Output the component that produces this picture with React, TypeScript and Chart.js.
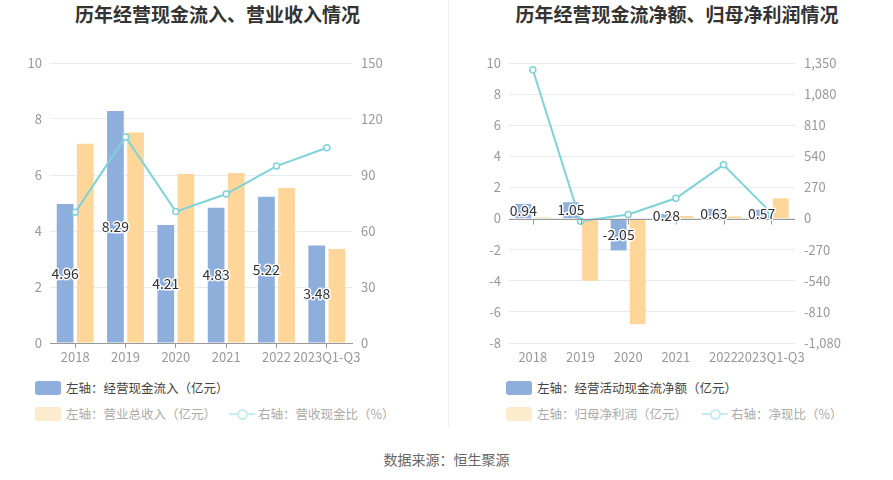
import React, { useEffect, useRef } from "react";
import { Chart, registerables } from "chart.js";

Chart.register(...registerables);

const years = ["2018", "2019", "2020", "2021", "2022", "2023Q1-Q3"];
const cashInflow = [4.96, 8.29, 4.21, 4.83, 5.22, 3.48];
const revenue = [7.12, 7.52, 6.04, 6.07, 5.54, 3.36];
const cashRevenueRatio = [70.0, 110.4, 70.4, 79.8, 94.8, 104.6];
const netCashFlow = [0.94, 1.05, -2.05, 0.28, 0.63, 0.57];
const netProfit = [0.07, -4.0, -6.8, 0.17, 0.14, 1.3];
const netCashRatio = [1292, -23, 35, 176, 466, 49];

const leftTicks = { min: 0, max: 10, step: 2 };
const leftRightTicks = { min: 0, max: 150, step: 30 };
const rightTicks = { min: -8, max: 10, step: 2 };
const rightRightTicks = { min: -1080, max: 1350, step: 270 };

const BLUE = "#8eafdc";
const ORANGE = "#ffd699";
const TEAL = "#7dd3d7";
const GRID = "#e8ebf2";
const TICK = "#999999";
const FONT = "'Noto Sans CJK SC', 'Noto Sans', sans-serif";

const valueLabels = {
  id: "valueLabels",
  afterDatasetsDraw(chart: any) {
    const ctx = chart.ctx;
    const meta = chart.getDatasetMeta(0);
    const data = chart.data.datasets[0].data;
    ctx.save();
    ctx.font = `14px ${FONT}`;
    ctx.textAlign = "center";
    ctx.textBaseline = "middle";
    ctx.lineJoin = "round";
    meta.data.forEach((el: any, i: number) => {
      const y = (el.y + el.base) / 2;
      const t = Number(data[i]).toFixed(2);
      ctx.strokeStyle = "rgba(255,255,255,0.9)";
      ctx.lineWidth = 3;
      ctx.strokeText(t, el.x, y);
      ctx.fillStyle = "#333333";
      ctx.fillText(t, el.x, y);
    });
    ctx.restore();
  },
};

const zeroAxis = {
  id: "zeroAxis",
  afterDatasetsDraw(chart: any) {
    const ctx = chart.ctx;
    const ys = chart.scales.y;
    const xs = chart.scales.x;
    const y0 = Math.round(ys.getPixelForValue(0)) + 0.5;
    ctx.save();
    ctx.strokeStyle = "#999999";
    ctx.lineWidth = 1;
    ctx.beginPath();
    ctx.moveTo(chart.chartArea.left, y0);
    ctx.lineTo(chart.chartArea.right, y0);
    years.forEach((_, i) => {
      const x = Math.round(xs.getPixelForValue(i)) + 0.5;
      ctx.moveTo(x, y0);
      ctx.lineTo(x, y0 + 5);
    });
    ctx.stroke();
    ctx.restore();
  },
};

function makeConfig(
  bar1: number[],
  bar2: number[],
  line: number[],
  lt: any,
  rt: any,
  leftW: number,
  rightW: number,
  zero: boolean
): any {
  return {
    type: "bar",
    data: {
      labels: years,
      datasets: [
        {
          type: "bar",
          data: bar1,
          backgroundColor: BLUE,
          yAxisID: "y",
          order: 2,
          categoryPercentage: 0.8,
          barPercentage: 0.83,
        },
        {
          type: "bar",
          data: bar2,
          backgroundColor: ORANGE,
          yAxisID: "y",
          order: 2,
          categoryPercentage: 0.8,
          barPercentage: 0.83,
        },
        {
          type: "line",
          data: line,
          borderColor: TEAL,
          borderWidth: 2,
          pointRadius: 3,
          pointBorderWidth: 1.5,
          pointBackgroundColor: "#ffffff",
          pointBorderColor: TEAL,
          yAxisID: "y1",
          order: 1,
          tension: 0,
        },
      ],
    },
    options: {
      responsive: false,
      animation: false,
      devicePixelRatio: 1,
      layout: { padding: { top: 63, left: 0, right: 0, bottom: 0 } },
      plugins: {
        legend: { display: false },
        tooltip: { enabled: false },
        title: { display: false },
      },
      scales: {
        x: {
          type: "category",
          offset: true,
          afterFit: (s: any) => {
            s.height = 29;
          },
          grid: {
            display: true,
            drawOnChartArea: false,
            drawTicks: true,
            tickLength: 5,
            offset: false,
            color: zero ? "rgba(0,0,0,0)" : "#999999",
          },
          border: { display: !zero, color: "#999999" },
          ticks: {
            color: TICK,
            font: { size: 13, family: FONT },
            autoSkip: false,
            maxRotation: 0,
            minRotation: 0,
            padding: 1,
          },
        },
        y: {
          position: "left",
          min: lt.min,
          max: lt.max,
          afterFit: (s: any) => {
            s.width = leftW;
          },
          ticks: {
            stepSize: lt.step,
            color: TICK,
            font: { size: 13, family: FONT },
            padding: 8,
          },
          grid: { color: GRID, drawTicks: false },
          border: { display: false },
        },
        y1: {
          position: "right",
          min: rt.min,
          max: rt.max,
          afterFit: (s: any) => {
            s.width = rightW;
          },
          ticks: {
            stepSize: rt.step,
            color: TICK,
            font: { size: 13, family: FONT },
            padding: 9,
          },
          grid: { display: false, drawTicks: false },
          border: { display: false },
        },
      },
    },
    plugins: zero ? [zeroAxis, valueLabels] : [valueLabels],
  };
}

function ChartCanvas(props: { config: () => any; left: number; width: number; height: number }) {
  const ref = useRef<HTMLCanvasElement | null>(null);
  useEffect(() => {
    if (!ref.current) return;
    const chart = new Chart(ref.current, props.config());
    return () => chart.destroy();
  }, []);
  return (
    <canvas
      ref={ref}
      width={props.width}
      height={props.height}
      style={{ position: "absolute", left: props.left, top: 0, width: props.width, height: props.height }}
    />
  );
}

function Swatch(props: { color: string }) {
  return (
    <span
      style={{
        display: "inline-block",
        width: 26,
        height: 14,
        borderRadius: 3,
        background: props.color,
        marginRight: 5,
        verticalAlign: "middle",
      }}
    />
  );
}

function LineIcon() {
  return (
    <span style={{ position: "relative", display: "inline-block", width: 26, height: 14, marginRight: 3, verticalAlign: "middle" }}>
      <span style={{ position: "absolute", left: 0, top: 6, width: 26, height: 2, background: "#c4edef" }} />
      <span
        style={{
          position: "absolute",
          left: 8,
          top: 2,
          width: 7,
          height: 7,
          borderRadius: "50%",
          border: "2px solid #c4edef",
          background: "#fff",
        }}
      />
    </span>
  );
}

const textStyle: any = { fontFamily: FONT, fontSize: 12.5, lineHeight: "14px", position: "absolute", whiteSpace: "nowrap" };

export default function App() {
  return (
    <div style={{ position: "absolute", left: 0, top: 0, width: 893, height: 480, background: "#fff", overflow: "hidden", fontFamily: FONT }}>
      <div style={{ position: "absolute", left: 0, width: 435, top: 2, textAlign: "center", fontSize: 19, fontWeight: "bold", color: "#333", lineHeight: "24px" }}>
        历年经营现金流入、营业收入情况
      </div>
      <div style={{ position: "absolute", left: 460, width: 434, top: 2, textAlign: "center", fontSize: 19, fontWeight: "bold", color: "#333", lineHeight: "24px" }}>
        历年经营现金流净额、归母净利润情况
      </div>
      <div style={{ position: "absolute", left: 448, top: 0, width: 1, height: 427, background: "#efefef" }} />

      <ChartCanvas
        left={0}
        width={445}
        height={372}
        config={() => makeConfig(cashInflow, revenue, cashRevenueRatio, leftTicks, leftRightTicks, 50, 93, false)}
      />
      <ChartCanvas
        left={445}
        width={448}
        height={372}
        config={() => makeConfig(netCashFlow, netProfit, netCashRatio, rightTicks, rightRightTicks, 64, 98, true)}
      />

      <div style={{ ...textStyle, left: 35, top: 379, color: "#444" }}>
        <Swatch color={BLUE} />
        <span style={{ verticalAlign: "middle" }}>左轴：经营现金流入（亿元）</span>
      </div>
      <div style={{ ...textStyle, left: 35, top: 405, color: "#aaa" }}>
        <Swatch color="#fdebcd" />
        <span style={{ verticalAlign: "middle" }}>左轴：营业总收入（亿元）</span>
      </div>
      <div style={{ ...textStyle, left: 229, top: 405, color: "#aaa" }}>
        <LineIcon />
        <span style={{ verticalAlign: "middle" }}>右轴：营收现金比（%）</span>
      </div>

      <div style={{ ...textStyle, left: 506, top: 379, color: "#444" }}>
        <Swatch color={BLUE} />
        <span style={{ verticalAlign: "middle" }}>左轴：经营活动现金流净额（亿元）</span>
      </div>
      <div style={{ ...textStyle, left: 506, top: 405, color: "#aaa" }}>
        <Swatch color="#fdebcd" />
        <span style={{ verticalAlign: "middle" }}>左轴：归母净利润（亿元）</span>
      </div>
      <div style={{ ...textStyle, left: 702, top: 405, color: "#aaa" }}>
        <LineIcon />
        <span style={{ verticalAlign: "middle" }}>右轴：净现比（%）</span>
      </div>

      <div style={{ position: "absolute", left: 0, width: 893, top: 450, textAlign: "center", fontSize: 14, color: "#666", lineHeight: "18px" }}>
        数据来源：恒生聚源
      </div>
    </div>
  );
}
